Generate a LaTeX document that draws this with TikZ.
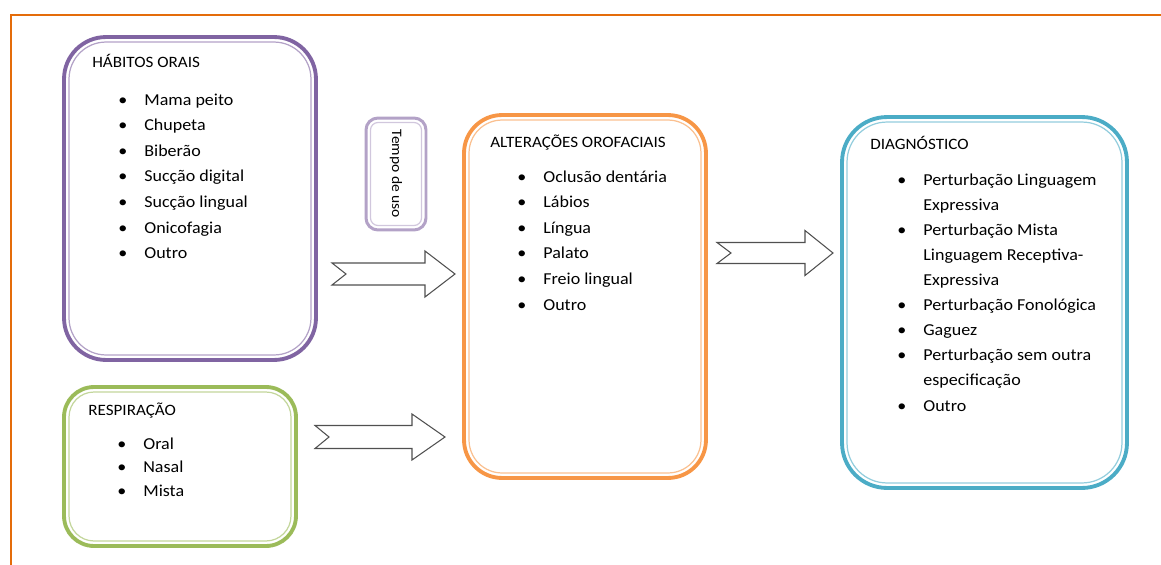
\documentclass[tikz,border=0pt]{standalone}
\usepackage{fontspec}
\setmainfont{Carlito}[FakeStretch=1.08]
\usetikzlibrary{positioning}
\definecolor{framecol}{RGB}{228,108,10}
\definecolor{habcol}{RGB}{128,100,162}
\definecolor{tempocol}{RGB}{179,162,199}
\definecolor{respcol}{RGB}{155,187,89}
\definecolor{altcol}{RGB}{247,150,70}
\definecolor{diagcol}{RGB}{75,172,198}
\definecolor{arrowcol}{RGB}{80,80,80}
\newcommand{\bul}{\makebox[0.52cm][l]{\textbullet}}
\newcommand{\cont}{\hspace{0.52cm}}
\tikzset{x=0.02cm, y=-0.02cm,
  box/.style={draw=#1, line width=2.2pt, outer sep=0pt, inner sep=0pt},
  inner/.style={draw=#1!60, line width=0.7pt},
  head/.style={anchor=base west, inner sep=0pt, font=\fontsize{9}{10}\selectfont},
  items/.style={anchor=base west, inner sep=0pt, font=\fontsize{9.5}{#1}\selectfont}}
\tikzset{blockarrow/.style={draw=arrowcol, line width=0.6pt, fill=white, line join=miter}}

\begin{document}
\begin{tikzpicture}
\useasboundingbox (0,0) rectangle (1161,565);
\draw[framecol, line width=1.4pt] (11,565) -- (11,15) -- (1161,15);

% caixas
\node[box=habcol, minimum width=5.04cm, minimum height=6.46cm, rounded corners=0.84cm] (hab) at (190,198.5) {};
\node[box=tempocol, line width=1.7pt, minimum width=1.2cm, minimum height=2.24cm, rounded corners=0.24cm] (tempo) at (396,174) {};
\node[box=respcol, minimum width=4.64cm, minimum height=3.18cm, rounded corners=0.6cm] (resp) at (180,466.5) {};
\node[box=altcol, minimum width=4.84cm, minimum height=7.26cm, rounded corners=0.76cm] (alt) at (585,296.5) {};
\node[box=diagcol, minimum width=5.7cm, minimum height=7.42cm, rounded corners=0.9cm] (diag) at (984.5,302.5) {};

\foreach \n/\c/\r/\d in {hab/habcol/0.74cm/5, resp/respcol/0.5cm/5, alt/altcol/0.66cm/5, diag/diagcol/0.8cm/5, tempo/tempocol/0.15cm/4.5}
  \draw[inner=\c, rounded corners=\r] ([shift={(\d,\d)}]\n.north west) rectangle ([shift={(-\d,-\d)}]\n.south east);

% textos
\node[head] (habT) at (92,67) {HÁBITOS ORAIS};
\node[items=14.6pt] (habL) at (118,105) {\begin{tabular}[t]{@{}l@{}}\bul Mama peito\\ \bul Chupeta\\ \bul Biberão\\ \bul Sucção digital\\ \bul Sucção lingual\\ \bul Onicofagia\\ \bul Outro\end{tabular}};
\node[rotate=-90, font=\fontsize{8.2}{10}\selectfont] (tempoT) at (tempo) {Tempo de uso};
\node[head] (respT) at (88,415) {RESPIRAÇÃO};
\node[items=13.6pt] (respL) at (117,449) {\begin{tabular}[t]{@{}l@{}}\bul Oral\\ \bul Nasal\\ \bul Mista\end{tabular}};
\node[head] (altT) at (490,147) {ALTERAÇÕES OROFACIAIS};
\node[items=14.6pt] (altL) at (517,182) {\begin{tabular}[t]{@{}l@{}}\bul Oclusão dentária\\ \bul Lábios\\ \bul Língua\\ \bul Palato\\ \bul Freio lingual\\ \bul Outro\end{tabular}};
\node[head] (diagT) at (870,149) {DIAGNÓSTICO};
\node[items=14.3pt] (diagL) at (897,185) {\begin{tabular}[t]{@{}l@{}}\bul Perturbação Linguagem\\ \cont Expressiva\\ \bul Perturbação Mista\\ \cont Linguagem Receptiva-\\ \cont Expressiva\\ \bul Perturbação Fonológica\\ \bul Gaguez\\ \bul Perturbação sem outra\\ \cont especificação\\ \bul Outro\end{tabular}};

% setas
\foreach \x/\y/\l/\h/\s/\w in {332/274/123/30/11/23, 315/437/130/33/11.5/23, 717/253/116/28/10.5/22.5}
  \draw[blockarrow] (\x,\y-\s) -- (\x+\l-\h,\y-\s) -- (\x+\l-\h,\y-\w) -- (\x+\l,\y) -- (\x+\l-\h,\y+\w) -- (\x+\l-\h,\y+\s) -- (\x,\y+\s) -- (\x+14,\y) -- cycle;
\end{tikzpicture}
\end{document}
